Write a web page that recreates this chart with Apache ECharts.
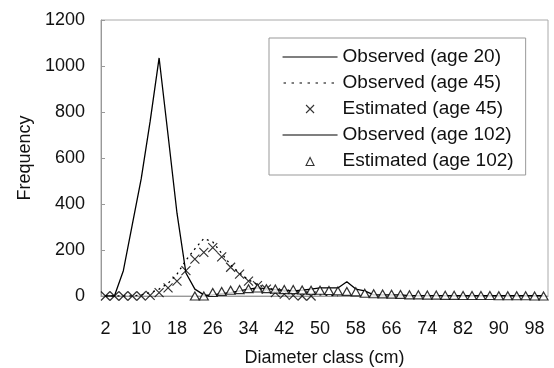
<!DOCTYPE html>
<html>
<head>
<meta charset="utf-8">
<script src="https://cdn.jsdelivr.net/npm/echarts@6/dist/echarts.min.js"></script>
<style>
  html, body { margin: 0; padding: 0; background: #fff; }
  #chart { width: 554px; height: 368px; }
</style>
</head>
<body>
<div id="chart"></div>
<script>
// diameter classes (cm)
const classes = ['2','4','6','8','10','12','14','16','18','20','22','24','26','28','30','32','34','36','38','40',
  '42','44','46','48','50','52','54','56','58','60','62','64','66','68','70','72','74','76','78','80',
  '82','84','86','88','90','92','94','96','98','100']

const obs20 = [0, 0, 110, 310, 510, 760, 1035, 700, 360, 100, 30, 5, 0]
const obs45 = [0, 0, 0, 0, 5, 15, 30, 55, 95, 155, 205, 250, 235, 185, 135, 100, 70, 50, 35, 25, 20, 15, 10, 8, 5, 3, 0]
const est45 = [0, 0, 0, 0, 0, 3, 15, 35, 65, 110, 160, 190, 210, 170, 125, 95, 65, 45, 30, 15, 8, 3, 0, 0]
const obs102 = [null, null, null, null, null, null, null, null, null, null, null, 0, 5, 10, 15, 22, 30, 35, 32, 28,
  25, 22, 25, 30, 35, 35, 35, 62, 30, 22, 5, 5, 5, 5, 2, 2, 2, 2, 2, 1,
  1, 1, 1, 1, 1, 1, 1, 1, 1, 1]
const est102 = [null, null, null, null, null, null, null, null, null, null, 0, 0, 15, 20, 25, 28, 32, 35, 32, 30,
  28, 28, 26, 25, 25, 24, 22, 20, 18, 12, 10, 9, 8, 7, 5, 5, 4, 4, 3, 3,
  2, 2, 2, 2, 1, 1, 1, 1, 0, 0]

const FONT = 'Liberation Sans'
const TXT = '#111'

// legend icons drawn in a 55x10 box (corner points keep the box size)
const solidIcon = 'path://M0,0L0,0M0,4.4L55,4.4L55,5.6L0,5.6ZM55,10L55,10'
const dottedIcon = 'path://M0,0L0,0M1,4.4h2.5v1.2h-2.5zM9,4.4h2.5v1.2h-2.5zM17,4.4h2.5v1.2h-2.5zM25,4.4h2.5v1.2h-2.5z' +
  'M33,4.4h2.5v1.2h-2.5zM41,4.4h2.5v1.2h-2.5zM49,4.4h2.5v1.2h-2.5zM55,10L55,10'
const crossIcon = 'path://M0,0L0,0M23.5,1L31.5,9M23.5,9L31.5,1M55,10L55,10'
const triIcon = 'path://M0,0L0,0M23.5,9.5L27.5,1.5L31.5,9.5ZM55,10L55,10'

const chart = echarts.init(document.getElementById('chart'))

chart.setOption({
  animation: false,
  textStyle: { fontFamily: FONT, color: TXT },
  grid: {
    left: 101, top: 20, right: 6, bottom: 72,
    outerBoundsMode: 'none',
    show: true, borderColor: '#aaa', borderWidth: 1
  },
  legend: {
    orient: 'vertical',
    left: 269, top: 38,
    padding: [9, 12, 4, 13],
    itemWidth: 55, itemHeight: 10, itemGap: 6,
    symbolKeepAspect: false,
    borderColor: '#999', borderWidth: 1,
    textStyle: { fontSize: 19, lineHeight: 20, color: TXT, fontFamily: FONT },
    data: [
      { name: 'Observed (age 20)', icon: solidIcon, itemStyle: { color: '#000', borderWidth: 0 } },
      { name: 'Observed (age 45)', icon: dottedIcon, itemStyle: { color: '#000', borderWidth: 0 } },
      { name: 'Estimated (age 45)', icon: crossIcon, itemStyle: { color: 'rgba(0,0,0,0)', borderColor: '#000', borderWidth: 1.1 } },
      { name: 'Observed (age 102)', icon: solidIcon, itemStyle: { color: '#000', borderWidth: 0 } },
      { name: 'Estimated (age 102)', icon: triIcon, itemStyle: { color: '#fff', borderColor: '#000', borderWidth: 1.1 } }
    ]
  },
  xAxis: {
    type: 'category',
    data: classes,
    boundaryGap: true,
    name: 'Diameter class (cm)',
    nameLocation: 'middle',
    nameGap: 53,
    nameTextStyle: { fontSize: 18, color: TXT },
    axisLine: { lineStyle: { color: '#999' } },
    axisTick: { inside: true, length: 3, interval: 0, lineStyle: { color: '#999' } },
    axisLabel: { interval: 3, fontSize: 18, color: TXT, margin: 24 },
    splitLine: { show: false }
  },
  yAxis: {
    type: 'value',
    min: 0, max: 1200, interval: 200,
    name: 'Frequency',
    nameLocation: 'middle',
    nameGap: 64,
    nameTextStyle: { fontSize: 18, color: TXT },
    axisLine: { show: true, lineStyle: { color: '#999' } },
    axisTick: { show: true, inside: true, length: 4, lineStyle: { color: '#999' } },
    axisLabel: { fontSize: 18, color: TXT, margin: 16, formatter: v => String(v) },
    splitLine: { show: false }
  },
  series: [
    {
      name: 'Observed (age 20)', type: 'line', data: obs20,
      symbol: 'none', lineStyle: { color: '#000', width: 1.3 }, itemStyle: { color: '#000' }, z: 2
    },
    {
      name: 'Observed (age 45)', type: 'line', data: obs45,
      symbol: 'none', lineStyle: { color: '#000', width: 1.3, type: [2, 4] }, itemStyle: { color: '#000' }, z: 2
    },
    {
      name: 'Estimated (age 45)', type: 'scatter', data: est45,
      symbol: 'path://M0,0L10,10M0,10L10,0', symbolSize: 9, symbolKeepAspect: true,
      itemStyle: { color: 'rgba(0,0,0,0)', borderColor: '#000', borderWidth: 1.2 }, z: 3
    },
    {
      name: 'Observed (age 102)', type: 'line', data: obs102,
      symbol: 'none', lineStyle: { color: '#000', width: 1.3 }, itemStyle: { color: '#000' }, z: 2
    },
    {
      name: 'Estimated (age 102)', type: 'scatter', data: est102,
      symbol: 'triangle', symbolSize: [9, 8],
      itemStyle: { color: '#fff', borderColor: '#000', borderWidth: 1.2 }, z: 3
    }
  ]
})

window.addEventListener('resize', () => chart.resize())
</script>
</body>
</html>
